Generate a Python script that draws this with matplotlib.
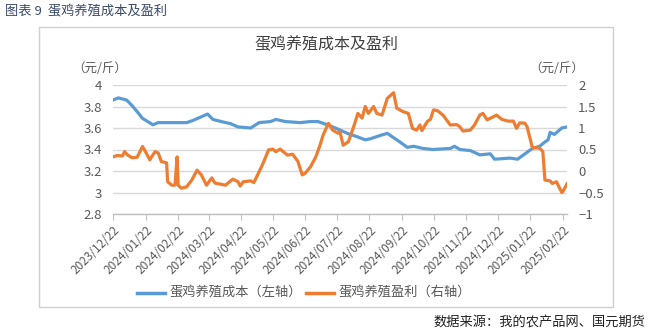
import matplotlib
matplotlib.use("Agg")
import matplotlib.pyplot as plt
from matplotlib.patches import Rectangle
from matplotlib.ticker import FixedLocator, FuncFormatter
import pandas as pd

plt.rcParams['font.family'] = ['Noto Sans CJK SC', 'DejaVu Sans']

# 蛋鸡养殖成本（元/斤，左轴）
cost_dates = [
    "2023-12-22", "2023-12-27", "2024-01-04", "2024-01-09", "2024-01-15", "2024-01-19",
    "2024-01-24", "2024-01-29", "2024-02-03", "2024-03-01", "2024-03-07", "2024-03-14",
    "2024-03-21", "2024-03-26", "2024-04-03", "2024-04-12", "2024-04-19", "2024-05-01",
    "2024-05-09", "2024-05-20", "2024-05-25", "2024-06-03", "2024-06-17", "2024-06-27",
    "2024-07-04", "2024-07-13", "2024-07-23", "2024-08-01", "2024-08-10", "2024-08-18",
    "2024-08-23", "2024-09-01", "2024-09-08", "2024-09-14", "2024-09-20", "2024-09-27",
    "2024-10-03", "2024-10-12", "2024-10-21", "2024-11-07", "2024-11-11", "2024-11-16",
    "2024-11-26", "2024-12-05", "2024-12-15", "2024-12-19", "2025-01-03", "2025-01-10",
    "2025-01-17", "2025-01-24", "2025-01-31", "2025-02-05", "2025-02-08", "2025-02-10",
    "2025-02-14", "2025-02-21", "2025-02-26",
]
cost_values = [
    3.86, 3.88, 3.86, 3.81, 3.74, 3.69,
    3.66, 3.63, 3.65, 3.65, 3.67, 3.70,
    3.73, 3.68, 3.66, 3.64, 3.61, 3.60,
    3.65, 3.66, 3.68, 3.66, 3.65, 3.66,
    3.66, 3.63, 3.59, 3.55, 3.52, 3.49,
    3.50, 3.53, 3.55, 3.51, 3.47, 3.42,
    3.43, 3.41, 3.40, 3.41, 3.43, 3.40,
    3.39, 3.35, 3.36, 3.31, 3.32, 3.31,
    3.36, 3.41, 3.43, 3.47, 3.49, 3.56,
    3.54, 3.60, 3.61,
]

# 蛋鸡养殖盈利（元/斤，右轴）
profit_dates = [
    "2023-12-22", "2023-12-26", "2023-12-31", "2024-01-02", "2024-01-05", "2024-01-09",
    "2024-01-14", "2024-01-19", "2024-01-21", "2024-01-26", "2024-01-31", "2024-02-03",
    "2024-02-06", "2024-02-11", "2024-02-12", "2024-02-16", "2024-02-19", "2024-02-21",
    "2024-02-22", "2024-02-25", "2024-03-01", "2024-03-06", "2024-03-11", "2024-03-15",
    "2024-03-20", "2024-03-25", "2024-03-28", "2024-04-07", "2024-04-14", "2024-04-19",
    "2024-04-21", "2024-04-24", "2024-05-01", "2024-05-04", "2024-05-09", "2024-05-13",
    "2024-05-18", "2024-05-22", "2024-05-25", "2024-05-29", "2024-06-05", "2024-06-10",
    "2024-06-15", "2024-06-19", "2024-06-22", "2024-06-27", "2024-07-02", "2024-07-06",
    "2024-07-09", "2024-07-14", "2024-07-18", "2024-07-23", "2024-07-25", "2024-07-28",
    "2024-08-02", "2024-08-07", "2024-08-11", "2024-08-15", "2024-08-18", "2024-08-21",
    "2024-08-26", "2024-08-29", "2024-09-03", "2024-09-08", "2024-09-14", "2024-09-17",
    "2024-09-23", "2024-09-28", "2024-10-02", "2024-10-06", "2024-10-09", "2024-10-11",
    "2024-10-16", "2024-10-19", "2024-10-22", "2024-10-26", "2024-10-31", "2024-11-07",
    "2024-11-13", "2024-11-16", "2024-11-19", "2024-11-26", "2024-11-30", "2024-12-05",
    "2024-12-08", "2024-12-12", "2024-12-17", "2024-12-21", "2024-12-26", "2025-01-01",
    "2025-01-06", "2025-01-09", "2025-01-12", "2025-01-17", "2025-01-19", "2025-01-24",
    "2025-01-31", "2025-02-03", "2025-02-05", "2025-02-10", "2025-02-12", "2025-02-16",
    "2025-02-21", "2025-02-22", "2025-02-26",
]
profit_values = [
    0.33, 0.36, 0.35, 0.45, 0.37, 0.31,
    0.32, 0.57, 0.49, 0.26, 0.45, 0.42,
    0.22, 0.19, -0.25, -0.33, -0.33, 0.33,
    -0.33, -0.40, -0.37, -0.21, 0.02, -0.09,
    -0.33, -0.16, -0.28, -0.33, -0.19, -0.25,
    -0.35, -0.25, -0.23, -0.27, -0.02, 0.19,
    0.49, 0.51, 0.45, 0.51, 0.37, 0.39,
    0.22, -0.09, -0.05, 0.10, 0.33, 0.60,
    0.84, 1.11, 0.95, 0.88, 0.91, 0.60,
    0.68, 1.03, 1.34, 1.23, 1.50, 1.34,
    1.50, 1.34, 1.30, 1.69, 1.82, 1.46,
    1.38, 1.34, 0.99, 0.95, 1.07, 0.94,
    1.15, 1.20, 1.42, 1.40, 1.30, 1.07,
    1.08, 1.03, 0.93, 0.95, 1.07, 1.30,
    1.34, 1.19, 1.25, 1.30, 1.20, 1.16,
    1.16, 0.99, 1.12, 1.11, 1.03, 0.55,
    0.53, 0.45, -0.21, -0.23, -0.29, -0.25,
    -0.50, -0.48, -0.30,
]

tick_dates = [
    "2023-12-22", "2024-01-22", "2024-02-22", "2024-03-22", "2024-04-22",
    "2024-05-22", "2024-06-22", "2024-07-22", "2024-08-22", "2024-09-22",
    "2024-10-22", "2024-11-22", "2024-12-22", "2025-01-22", "2025-02-22",
]
left_ticks = [2.8, 3.0, 3.2, 3.4, 3.6, 3.8, 4.0]
right_ticks = [-1.0, -0.5, 0.0, 0.5, 1.0, 1.5, 2.0]

series_labels = ["蛋鸡养殖成本（左轴）", "蛋鸡养殖盈利（右轴）"]
blue = "#5B9BD5"
orange = "#ED7D31"
text_gray = "#595959"
grid_gray = "#D9D9D9"

W, H = 648, 332
fig = plt.figure(figsize=(W / 100, H / 100), dpi=100)

# outer frame
fig.patches.append(Rectangle((39 / W, 1 - 307 / H), (613 - 39) / W, (307 - 27) / H,
                             transform=fig.transFigure, fill=False,
                             edgecolor="#D0D0D0", linewidth=1.0))

ax = fig.add_axes([113 / W, 1 - 214 / H, (567 - 113) / W, (214 - 85) / H])
ax2 = ax.twinx()

cd = pd.to_datetime(cost_dates)
pdx = pd.to_datetime(profit_dates)
td = pd.to_datetime(tick_dates)

ax.plot(cd, cost_values, color=blue, linewidth=2.3, solid_joinstyle="round", zorder=3)
ax2.plot(pdx, profit_values, color=orange, linewidth=2.3, solid_joinstyle="round", zorder=3)

ax.set_ylim(2.8, 4.0)
ax2.set_ylim(-1.0, 2.0)
ax.set_xlim(td[0], pd.Timestamp("2025-02-26"))

ax.yaxis.set_major_locator(FixedLocator(left_ticks))
ax2.yaxis.set_major_locator(FixedLocator(right_ticks))
fmt = FuncFormatter(lambda v, p: ("%g" % v).replace("-", "\u2212"))
ax.yaxis.set_major_formatter(fmt)
ax2.yaxis.set_major_formatter(fmt)

ax.grid(axis="y", color=grid_gray, linewidth=1.0)
ax.set_axisbelow(True)

ax.set_xticks(td)
ax.set_xticklabels([d.strftime("%Y/%m/%d") for d in td], rotation=45,
                   ha="right", rotation_mode="anchor", fontsize=8.5, color=text_gray)
ax.tick_params(axis="x", length=4, color="#BFBFBF", pad=3)
ax.tick_params(axis="y", length=0, labelsize=9.5, labelcolor=text_gray, pad=8)
ax2.tick_params(axis="y", length=0, labelsize=9.5, labelcolor=text_gray, pad=8)

for a in (ax, ax2):
    for s in ("top", "left", "right", "bottom"):
        a.spines[s].set_visible(False)
ax.spines["bottom"].set_visible(True)
ax.spines["bottom"].set_color("#BFBFBF")
ax.spines["bottom"].set_linewidth(1.0)

# titles and units
fig.text(5 / W, 1 - 12 / H, "图表 9  蛋鸡养殖成本及盈利", fontsize=9.5,
         color="#3A4A6B", va="center", ha="left")
fig.text(326 / W, 1 - 45 / H, "蛋鸡养殖成本及盈利", fontsize=11.5,
         color="#404040", va="center", ha="center")
fig.text(100 / W, 1 - 69 / H, "（元/斤）", fontsize=9, color=text_gray,
         va="center", ha="center")
fig.text(557 / W, 1 - 69 / H, "（元/斤）", fontsize=9, color=text_gray,
         va="center", ha="center")

# legend
ly = 1 - 293 / H
fig.lines.append(plt.Line2D([137 / W, 165 / W], [ly, ly], transform=fig.transFigure,
                            color=blue, linewidth=2.5))
fig.text(170 / W, ly, series_labels[0], fontsize=9.5, color=text_gray, va="center", ha="left")
fig.lines.append(plt.Line2D([306 / W, 334 / W], [ly, ly], transform=fig.transFigure,
                            color=orange, linewidth=2.5))
fig.text(339 / W, ly, series_labels[1], fontsize=9.5, color=text_gray, va="center", ha="left")

fig.text(645 / W, 1 - 323 / H, "数据来源：我的农产品网、国元期货", fontsize=9.5,
         color="#202020", va="center", ha="right")

fig.savefig("out.png", dpi=100)
